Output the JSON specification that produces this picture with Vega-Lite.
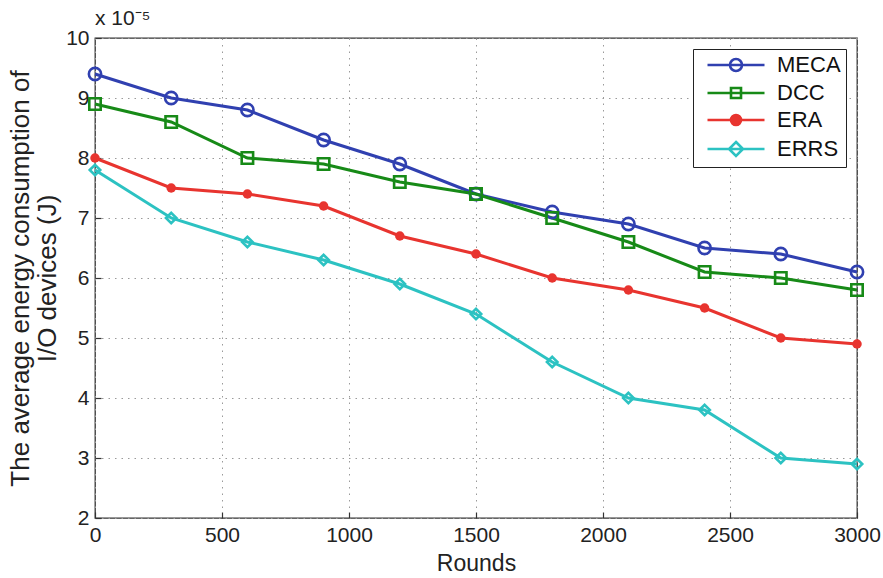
{
  "$schema": "https://vega.github.io/schema/vega-lite/v6.json",
  "autosize": {"type": "none"},
  "padding": {"left": 95, "top": 38, "right": 26, "bottom": 60},
  "width": 762,
  "height": 480,
  "background": "white",
  "config": {
    "font": "Liberation Sans",
    "view": {"stroke": "#333333", "strokeWidth": 1.3},
    "axis": {
      "labelFont": "Liberation Sans",
      "titleFont": "Liberation Sans",
      "labelColor": "#222222",
      "titleColor": "#222222",
      "titleFontWeight": "normal",
      "domain": false,
      "grid": true,
      "gridColor": "#9a9a9a",
      "gridDash": [1.5, 5],
      "gridWidth": 1,
      "tickColor": "#333333",
      "tickSize": -6,
      "tickWidth": 1.2
    }
  },
  "title": {
    "text": "x 10⁻⁵",
    "anchor": "start",
    "frame": "group",
    "fontSize": 21,
    "fontWeight": "normal",
    "font": "Liberation Sans",
    "color": "#222222",
    "offset": -2
  },
  "data": {
    "values": [
      {"r": 0, "s": "MECA", "v": 9.4}, {"r": 300, "s": "MECA", "v": 9.0}, {"r": 600, "s": "MECA", "v": 8.8}, {"r": 900, "s": "MECA", "v": 8.3}, {"r": 1200, "s": "MECA", "v": 7.9}, {"r": 1500, "s": "MECA", "v": 7.4}, {"r": 1800, "s": "MECA", "v": 7.1}, {"r": 2100, "s": "MECA", "v": 6.9}, {"r": 2400, "s": "MECA", "v": 6.5}, {"r": 2700, "s": "MECA", "v": 6.4}, {"r": 3000, "s": "MECA", "v": 6.1},
      {"r": 0, "s": "DCC", "v": 8.9}, {"r": 300, "s": "DCC", "v": 8.6}, {"r": 600, "s": "DCC", "v": 8.0}, {"r": 900, "s": "DCC", "v": 7.9}, {"r": 1200, "s": "DCC", "v": 7.6}, {"r": 1500, "s": "DCC", "v": 7.4}, {"r": 1800, "s": "DCC", "v": 7.0}, {"r": 2100, "s": "DCC", "v": 6.6}, {"r": 2400, "s": "DCC", "v": 6.1}, {"r": 2700, "s": "DCC", "v": 6.0}, {"r": 3000, "s": "DCC", "v": 5.8},
      {"r": 0, "s": "ERA", "v": 8.0}, {"r": 300, "s": "ERA", "v": 7.5}, {"r": 600, "s": "ERA", "v": 7.4}, {"r": 900, "s": "ERA", "v": 7.2}, {"r": 1200, "s": "ERA", "v": 6.7}, {"r": 1500, "s": "ERA", "v": 6.4}, {"r": 1800, "s": "ERA", "v": 6.0}, {"r": 2100, "s": "ERA", "v": 5.8}, {"r": 2400, "s": "ERA", "v": 5.5}, {"r": 2700, "s": "ERA", "v": 5.0}, {"r": 3000, "s": "ERA", "v": 4.9},
      {"r": 0, "s": "ERRS", "v": 7.8}, {"r": 300, "s": "ERRS", "v": 7.0}, {"r": 600, "s": "ERRS", "v": 6.6}, {"r": 900, "s": "ERRS", "v": 6.3}, {"r": 1200, "s": "ERRS", "v": 5.9}, {"r": 1500, "s": "ERRS", "v": 5.4}, {"r": 1800, "s": "ERRS", "v": 4.6}, {"r": 2100, "s": "ERRS", "v": 4.0}, {"r": 2400, "s": "ERRS", "v": 3.8}, {"r": 2700, "s": "ERRS", "v": 3.0}, {"r": 3000, "s": "ERRS", "v": 2.9}
    ]
  },
  "encoding": {
    "x": {
      "field": "r", "type": "quantitative",
      "scale": {"domain": [0, 3000], "nice": false, "zero": false},
      "axis": {"values": [0, 500, 1000, 1500, 2000, 2500, 3000], "format": "d", "title": "Rounds", "titleFontSize": 23, "labelFontSize": 21, "labelPadding": 12, "titlePadding": 7, "labelFlush": false}
    },
    "y": {
      "field": "v", "type": "quantitative",
      "scale": {"domain": [2, 10], "nice": false, "zero": false},
      "axis": {"values": [2, 3, 4, 5, 6, 7, 8, 9, 10], "title": ["The average energy consumption of", "I/O devices (J)"], "titleFontSize": 26, "labelFontSize": 21, "labelPadding": 12, "titlePadding": 5, "titleLineHeight": 27}
    }
  },
  "layer": [
    {
      "mark": {"type": "line", "strokeWidth": 3},
      "encoding": {
        "color": {
          "field": "s", "type": "nominal",
          "scale": {"domain": ["MECA", "DCC", "ERA", "ERRS"], "range": ["#3040b0", "#178a17", "#e8342f", "#2cc2c2"]},
          "legend": {
            "title": null,
            "orient": "top-right",
            "offset": 11,
            "fillColor": "white",
            "strokeColor": "#222222",
            "padding": 5,
            "labelFont": "Liberation Sans",
            "labelFontSize": 22,
            "labelColor": "#111111",
            "symbolSize": 100,
            "symbolStrokeWidth": 2.6,
            "symbolOffset": 27,
            "labelOffset": 30,
            "rowPadding": 5,
            "encode": {
              "symbols": {
                "update": {
                  "shape": {"signal": "datum.value === 'MECA' ? 'M-5.7,0H5.7M1.2,0A1.2,1.2,0,1,1,-1.2,0A1.2,1.2,0,1,1,1.2,0' : datum.value === 'DCC' ? 'M-5.7,0H5.7M-1,-1H1V1H-1Z' : datum.value === 'ERA' ? 'M-5.7,0H5.7M1,0A1,1,0,1,1,-1,0A1,1,0,1,1,1,0' : 'M-5.7,0H5.7M0,-1.4L1.4,0L0,1.4L-1.4,0Z'"},
                  "fill": {"signal": "datum.value === 'ERA' ? '#e8342f' : 'transparent'"}
                }
              }
            }
          }
        }
      }
    },
    {
      "transform": [{"filter": "datum.s !== 'ERA'"}],
      "mark": {"type": "point", "filled": false, "strokeWidth": 2.6, "opacity": 1},
      "encoding": {
        "color": {"field": "s", "type": "nominal", "legend": null},
        "shape": {
          "field": "s", "type": "nominal", "legend": null,
          "scale": {"domain": ["MECA", "DCC", "ERRS"], "range": ["circle", "square", "diamond"]}
        },
        "size": {
          "field": "s", "type": "nominal", "legend": null,
          "scale": {"domain": ["MECA", "DCC", "ERRS"], "range": [150, 110, 170]}
        }
      }
    },
    {
      "transform": [{"filter": "datum.s === 'ERA'"}],
      "mark": {"type": "circle", "size": 90, "opacity": 1, "color": "#e8342f"},
      "encoding": {}
    }
  ]
}
